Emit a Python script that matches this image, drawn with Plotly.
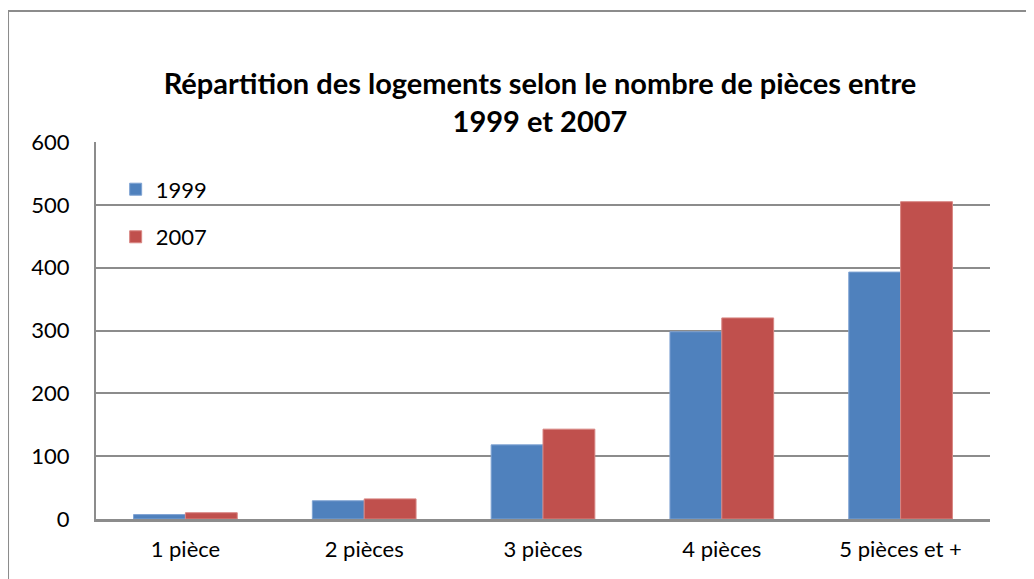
import plotly.graph_objects as go

categories = ["1 pièce", "2 pièces", "3 pièces", "4 pièces", "5 pièces et +"]
values_1999 = [7, 29, 118, 298, 393]
values_2007 = [10, 32, 143, 320, 505]
series_names = ["1999", "2007"]
y_ticks = [0, 100, 200, 300, 400, 500, 600]

blue = "#4F81BD"
red = "#C0504D"
grid_color = "#8C8C8C"
font_family = "Lato, 'Open Sans', sans-serif"

fig = go.Figure()

fig.add_trace(go.Bar(
    x=categories, y=values_1999, name=series_names[0],
    legendgroup="a",
    marker=dict(color=blue, line=dict(color="#7FA3D3", width=1)),
))
fig.add_trace(go.Bar(
    x=categories, y=values_2007, name=series_names[1],
    legendgroup="b",
    marker=dict(color=red, line=dict(color="#D88683", width=1)),
))

# page has an 8px body margin, so the figure is a bit smaller than the window
fig.update_layout(
    width=1026,
    height=571,
    barmode="group",
    bargap=0.42,
    bargroupgap=0,
    plot_bgcolor="white",
    paper_bgcolor="white",
    margin=dict(l=88, r=44, t=134, b=60),
    font=dict(family=font_family, color="black", size=22),
    title=dict(
        text="<b>Répartition des logements selon le nombre de pièces entre<br>1999 et 2007</b>",
        x=0.5185, xanchor="center",
        y=0.849, yanchor="middle",
        font=dict(size=29, family=font_family, color="black"),
    ),
    legend=dict(
        x=0.022, y=0.93, xanchor="left", yanchor="top",
        bgcolor="rgba(0,0,0,0)",
        font=dict(size=22),
        tracegroupgap=16,
        traceorder="grouped",
    ),
    showlegend=True,
)

fig.update_yaxes(
    range=[0, 600],
    tickvals=y_ticks,
    showgrid=True, gridcolor=grid_color, gridwidth=2,
    showline=True, linecolor=grid_color, linewidth=2,
    ticks="", ticklabelstandoff=20,
    zeroline=False,
    tickfont=dict(size=22),
)
fig.update_xaxes(
    showline=True, linecolor=grid_color, linewidth=3,
    showgrid=False,
    tickfont=dict(size=22),
    ticklabelstandoff=9,
)

# outer chart frame (top and left edges visible)
fig.add_shape(
    type="rect", xref="paper", yref="paper",
    x0=-0.0984, x1=1.06, y0=-0.2, y1=1.3475,
    line=dict(color="#8C8C8C", width=2),
    layer="below",
)

fig.write_html("out.html")
